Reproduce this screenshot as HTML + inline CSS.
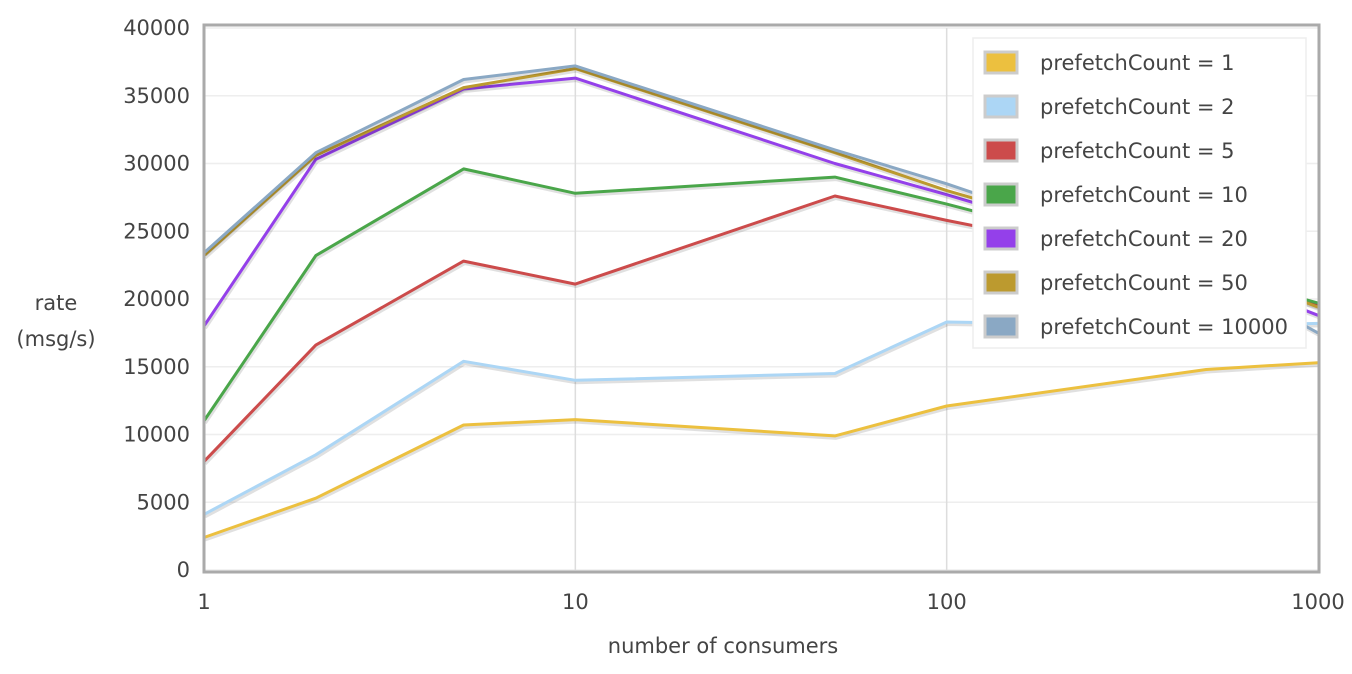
<!DOCTYPE html>
<html><head><meta charset="utf-8"><style>
body{margin:0;background:#fff;font-family:"Liberation Sans",sans-serif;}
svg text{font-family:"DejaVu Sans","Liberation Sans",sans-serif;fill:#444;}
</style></head><body>
<svg id="chart" width="1352" height="669">
<g id="grid"></g>
<g id="series"></g>
<rect x="204" y="25" width="1115" height="547" fill="none" stroke="#aaa" stroke-width="3"/>
<g id="axes"></g>
<text x="56" y="310" text-anchor="middle" font-size="21">rate</text>
<text x="56" y="346" text-anchor="middle" font-size="21">(msg/s)</text>
<text x="723" y="653" text-anchor="middle" font-size="21">number of consumers</text>
<g id="legend"></g>
</svg>
<script>
const xValues=[1,2,5,10,50,100,500,1000];
const seriesNames=["prefetchCount = 1","prefetchCount = 2","prefetchCount = 5","prefetchCount = 10","prefetchCount = 20","prefetchCount = 50","prefetchCount = 10000"];
const seriesColors=["#ecc03f","#acd6f5","#cc4b4b","#4aa64a","#9440ea","#bc9a2f","#8aa8c4"];
const s1=[2400,5300,10700,11100,9900,12100,14800,15300];
const s2=[4100,8500,15400,14000,14500,18300,18000,18200];
const s5=[8000,16600,22800,21100,27600,25800,22000,19500];
const s10=[11000,23200,29600,27800,29000,27000,22000,19700];
const s20=[18000,30300,35500,36300,30000,27700,22000,18800];
const s50=[23200,30600,35600,37000,30800,28000,22500,19400];
const s10000=[23400,30800,36200,37200,31000,28500,22000,17500];
const yTicks=[0,5000,10000,15000,20000,25000,30000,35000,40000];
const xTicks=[1,10,100,1000];
const allSeries=[s1,s2,s5,s10,s20,s50,s10000];
const NS="http://www.w3.org/2000/svg";
const X0=204,X1=1318,Y0=570,Y1=28;
const xs=v=>X0+(Math.log10(v)-0)/3*(X1-X0);
const ys=v=>Y0-(v/40000)*(Y0-Y1);
function mk(t,a,p){const e=document.createElementNS(NS,t);for(const k in a)e.setAttribute(k,a[k]);p.appendChild(e);return e;}
const grid=document.getElementById('grid'),axes=document.getElementById('axes');
yTicks.forEach(t=>{
 const l=mk('line',{x1:X0,x2:X1,y1:ys(t),y2:ys(t),stroke:'#eee','stroke-width':1.5},grid);
 
 
 const tx=mk('text',{x:190,y:ys(t)+7,'text-anchor':'end','font-size':21},axes);tx.textContent=t;
 
 
});
xTicks.forEach(t=>{
 if(t>1&&t<1000){const l=mk('line',{x1:xs(t),x2:xs(t),y1:Y1,y2:Y0,stroke:'#ddd','stroke-width':1.5},grid);
 
 }
 const tx=mk('text',{x:xs(t),y:609,'text-anchor':'middle','font-size':21},axes);tx.textContent=t;
 
 
});
const sg=document.getElementById('series');
allSeries.forEach((s,i)=>{
 const pts=s.map((v,j)=>xs(xValues[j]).toFixed(1)+','+ys(v).toFixed(1)).join(' ');
 const sh=mk('polyline',{points:pts,fill:'none',stroke:'rgba(0,0,0,0.12)','stroke-width':4,transform:'translate(1,2)'},sg);
 
 
 const p=mk('polyline',{points:pts,fill:'none',stroke:seriesColors[i],'stroke-width':3,'stroke-linejoin':'round'},sg);
 
 
});
const lg=document.getElementById('legend');
const lb=mk('rect',{x:973,y:38,width:333,height:310,fill:'#fff',stroke:'#eee','stroke-width':1.5},lg);


seriesNames.forEach((n,i)=>{
 const y=62+i*44;
 const r=mk('rect',{x:985,y:y-10,width:32,height:21,fill:seriesColors[i],stroke:'#ccc','stroke-width':3},lg);
 
 
 const t=mk('text',{x:1040,y:y+8,'font-size':21},lg);t.textContent=n;
 
 
});
</script>
</body></html>
